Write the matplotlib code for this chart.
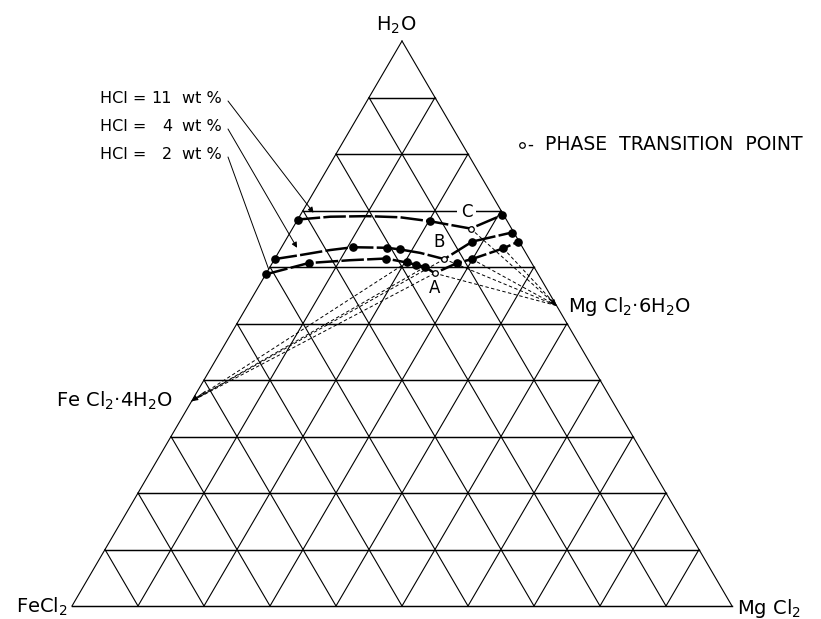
import matplotlib.pyplot as plt

# compositions, as weight fractions (H2O, MgCl2); FeCl2 is the rest
# HCl = 11 wt %
hcl11_h2o = [0.684, 0.681, 0.692]
hcl11_mg = [0.000, 0.202, 0.306]
hcl11_path_h2o = [0.684, 0.689, 0.690, 0.688, 0.681, 0.668, 0.692]
hcl11_path_mg = [0.000, 0.047, 0.102, 0.153, 0.202, 0.270, 0.306]

# HCl = 4 wt %
hcl4_h2o = [0.614, 0.635, 0.634, 0.631, 0.645, 0.661]
hcl4_mg = [0.000, 0.108, 0.161, 0.182, 0.284, 0.336]
hcl4_path_h2o = [0.614, 0.621, 0.630, 0.635, 0.634, 0.631, 0.625, 0.614, 0.645, 0.661]
hcl4_path_mg = [0.000, 0.035, 0.076, 0.108, 0.161, 0.182, 0.215, 0.257, 0.284, 0.336]

# HCl = 2 wt %
hcl2_h2o = [0.587, 0.607, 0.615, 0.608, 0.604, 0.600, 0.607, 0.614, 0.633, 0.645]
hcl2_mg = [0.000, 0.055, 0.168, 0.203, 0.219, 0.235, 0.280, 0.299, 0.337, 0.354]
hcl2_path_h2o = [0.587, 0.607, 0.612, 0.615, 0.608, 0.604, 0.600, 0.589, 0.607, 0.614, 0.633, 0.645]
hcl2_path_mg = [0.000, 0.055, 0.115, 0.168, 0.203, 0.219, 0.235, 0.255, 0.280, 0.299, 0.337, 0.354]

# phase transition points
trans_names = ["A", "B", "C"]
trans_h2o = [0.589, 0.614, 0.668]
trans_mg = [0.255, 0.257, 0.270]

# solid phases (on the binary edges)
fecl2_4h2o = (0.3625, 0.0)
mgcl2_6h2o = (0.5317, 0.4683)

# tie lines: (H2O, MgCl2) of liquid end
ties_fe = [(0.608, 0.203), (0.600, 0.235), (0.589, 0.255), (0.614, 0.257)]
ties_mg = [(0.589, 0.255), (0.614, 0.257), (0.668, 0.270), (0.614, 0.299), (0.633, 0.337)]

hcl_numbers = ["11", "4", "2"]


def tern(h2o, mg):
    """Ternary (H2O, MgCl2) -> cartesian, FeCl2 bottom-left, MgCl2 bottom-right."""
    if isinstance(h2o, (list, tuple)):
        return [m + h / 2 for h, m in zip(h2o, mg)], list(h2o)
    return mg + h2o / 2, h2o


def fpos(x, y):
    return x / 821, 1 - y / 619


fig = plt.figure(figsize=(8.21, 6.19), dpi=100)
ax = fig.add_axes([0, 0, 1, 1])
ax.set_xlim(-72 / 660, 749 / 660)
ax.set_ylim(-13 / 565, 606 / 565)
ax.axis("off")

# grid
for k in range(0, 11):
    f = k / 10
    if k < 10:
        x, y = tern([f, f], [0, 1 - f])
        ax.plot(x, y, color="black", lw=1.05, zorder=1)
    x, y = tern([0, 1 - f], [f, f])
    ax.plot(x, y, color="black", lw=0.8, zorder=1)
    x, y = tern([0, 1 - f], [1 - f, 0])
    ax.plot(x, y, color="black", lw=0.8, zorder=1)

# tie lines
for h, m in ties_fe:
    x, y = tern([h, fecl2_4h2o[0]], [m, fecl2_4h2o[1]])
    ax.plot(x, y, color="black", lw=0.7, ls=(0, (3.5, 2.5)), zorder=2)
for h, m in ties_mg:
    x, y = tern([h, mgcl2_6h2o[0]], [m, mgcl2_6h2o[1]])
    ax.plot(x, y, color="black", lw=0.7, ls=(0, (3.5, 2.5)), zorder=2)

arrow_kw = dict(arrowstyle="-|>", lw=0.7, color="black", mutation_scale=9, shrinkA=0, shrinkB=0)
ax.annotate("", xy=tern(*fecl2_4h2o), xytext=tern(0.380, 0.012), arrowprops=arrow_kw)
ax.annotate("", xy=tern(*mgcl2_6h2o), xytext=tern(0.545, 0.450), arrowprops=arrow_kw)

# solubility curves
for ph, pm, h, m in [
    (hcl11_path_h2o, hcl11_path_mg, hcl11_h2o, hcl11_mg),
    (hcl4_path_h2o, hcl4_path_mg, hcl4_h2o, hcl4_mg),
    (hcl2_path_h2o, hcl2_path_mg, hcl2_h2o, hcl2_mg),
]:
    x, y = tern(ph, pm)
    ax.plot(x, y, color="black", lw=1.8, ls=(0, (9, 1.3)), zorder=3)
    x, y = tern(h, m)
    ax.plot(x, y, "o", color="black", ms=5.2, zorder=4)

x, y = tern(trans_h2o, trans_mg)
ax.plot(x, y, "o", mfc="white", mec="black", mew=0.9, ms=4, zorder=5)

# labels of A, B, C
label_px = [(434.3, 288.3), (439, 241.7), (466.7, 211.7)]
for name, (lx, ly) in zip(trans_names, label_px):
    bbox = dict(fc="white", ec="none", pad=2.5) if name == "C" else None
    fig.text(*fpos(lx, ly), name, ha="center", va="center", fontsize=12, bbox=bbox)

# vertex and compound labels
fig.text(*fpos(396, 31), "H$_2$O", ha="center", va="baseline", fontsize=14)
fig.text(*fpos(68, 613), "FeCl$_2$", ha="right", va="baseline", fontsize=14)
fig.text(*fpos(737, 614), "Mg Cl$_2$", ha="left", va="baseline", fontsize=14)
fig.text(*fpos(173, 407), "Fe Cl$_2$·4H$_2$O", ha="right", va="baseline", fontsize=14)
fig.text(*fpos(568, 312), "Mg Cl$_2$·6H$_2$O", ha="left", va="baseline", fontsize=14)

# HCl labels with leader lines
baselines = [103, 131, 159]
tips = [tern(0.696, 0.018), tern(0.634, 0.024), tern(0.596, 0.000)]
for num, yb, tip in zip(hcl_numbers, baselines, tips):
    fig.text(*fpos(100, yb), "HCl =", ha="left", va="baseline", fontsize=11.5)
    fig.text(*fpos(172, yb), num, ha="right", va="baseline", fontsize=11.5)
    fig.text(*fpos(182, yb), "wt %", ha="left", va="baseline", fontsize=11.5)
    start = ax.transData.inverted().transform((228, 619 - (yb - 2)))
    style = "-" if num == "2" else "-|>"
    ax.annotate("", xy=tip, xytext=start,
                arrowprops=dict(arrowstyle=style, lw=0.7, color="black",
                                mutation_scale=8, shrinkA=0, shrinkB=0))

# legend
lx, ly = fpos(522, 144.5)
fig.lines.append(plt.Line2D([lx], [ly], marker="o", mfc="white", mec="black", mew=0.9, ms=4,
                            transform=fig.transFigure))
fig.text(*fpos(527, 150), "-", ha="left", va="baseline", fontsize=12)
fig.text(*fpos(545, 150), "PHASE  TRANSITION  POINT", ha="left", va="baseline", fontsize=13.5)

fig.savefig("out.png", dpi=100)
